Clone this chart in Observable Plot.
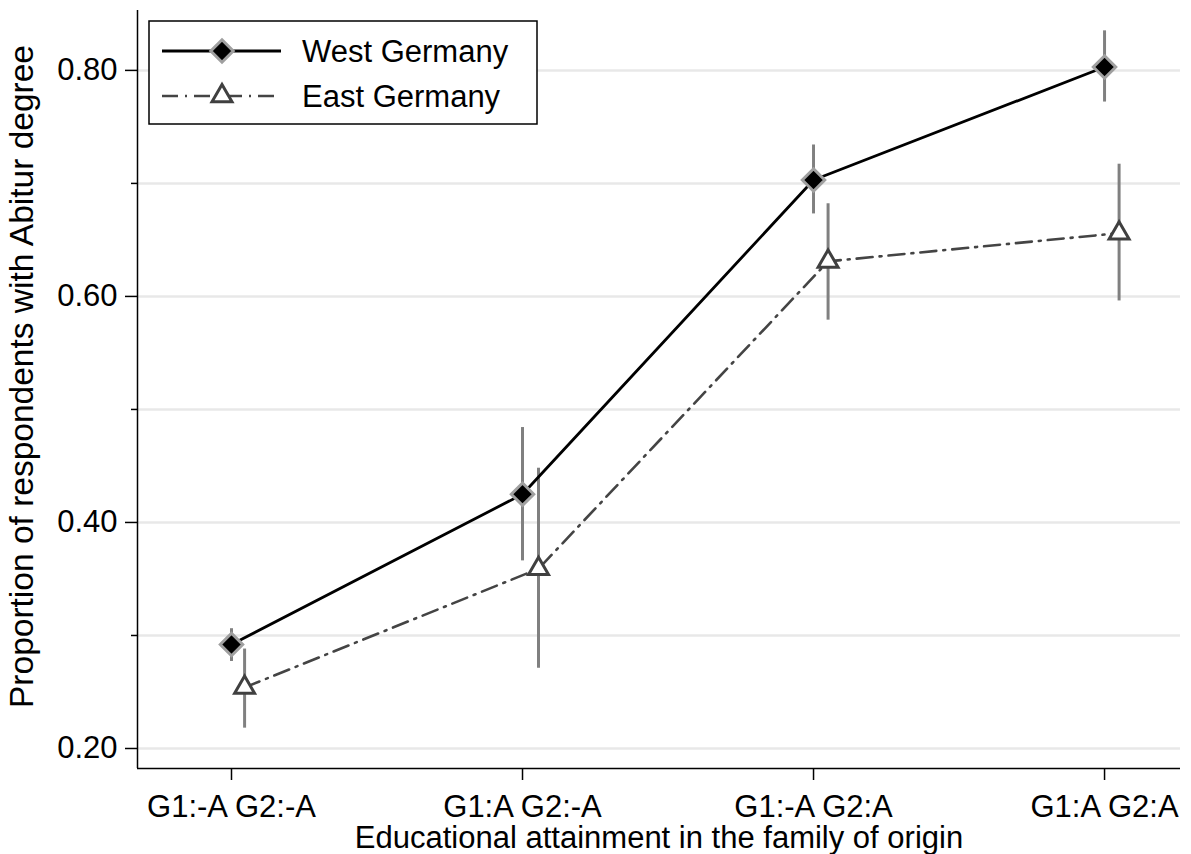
<!DOCTYPE html>
<html>
<head>
<meta charset="utf-8">
<script src="https://cdn.jsdelivr.net/npm/d3@7"></script>
<script src="https://cdn.jsdelivr.net/npm/@observablehq/plot@0.6"></script>
<style>
  html, body { margin: 0; padding: 0; background: white; }
</style>
</head>
<body>
<div id="chart"></div>
<script>
// ---- data ----
const categories = ["G1:-A G2:-A", "G1:A G2:-A", "G1:-A G2:A", "G1:A G2:A"];
const categoryPos = [1, 2, 3, 4];

const westX    = [1, 2, 3, 4];
const westMean = [0.292, 0.425, 0.703, 0.803];
const westLo   = [0.277, 0.366, 0.673, 0.772];
const westHi   = [0.306, 0.484, 0.734, 0.835];

const eastX    = [1.045, 2.055, 3.05, 4.05];
const eastMean = [0.254, 0.359, 0.631, 0.656];
const eastLo   = [0.218, 0.271, 0.579, 0.596];
const eastHi   = [0.288, 0.448, 0.682, 0.717];

const yMajorTicks = [0.2, 0.4, 0.6, 0.8];
const yMinorTicks = [0.3, 0.5, 0.7];
const yGrid = [0.2, 0.3, 0.4, 0.5, 0.6, 0.7, 0.8];

const seriesNames = ["West Germany", "East Germany"];
const xTitle = "Educational attainment in the family of origin";
const yTitle = "Proportion of respondents with Abitur degree";

const xDomain = [0.677, 4.261];
const yDomain = [0.1823, 0.853];

// ---- tables ----
const west = westX.map((x, i) => ({x, y: westMean[i], lo: westLo[i], hi: westHi[i]}));
const east = eastX.map((x, i) => ({x, y: eastMean[i], lo: eastLo[i], hi: eastHi[i]}));

const font = "'Liberation Sans', Arial, Helvetica, sans-serif";
const dashEast = "16,7,2,7";

const chart = Plot.plot({
  width: 1191,
  height: 854,
  marginLeft: 137,
  marginRight: 11,
  marginTop: 10,
  marginBottom: 86,
  style: {fontFamily: font, fontSize: "31px", background: "white", color: "black"},
  x: {type: "linear", domain: xDomain},
  y: {type: "linear", domain: yDomain},
  marks: [
    Plot.gridY(yGrid, {stroke: "#e8e8e8", strokeOpacity: 1, strokeWidth: 2.5}),
    Plot.ruleX([xDomain[0]], {stroke: "black", strokeWidth: 1.5}),
    Plot.ruleY([yDomain[0]], {stroke: "black", strokeWidth: 1.5}),
    Plot.axisY({ticks: yMajorTicks, tickFormat: ".2f", tickSize: 12, tickPadding: 8, fontSize: 31, label: null, stroke: "black", strokeWidth: 1.5}),
    Plot.axisY({ticks: yMinorTicks, tickFormat: () => "", tickSize: 6, tickPadding: 0, label: null, stroke: "black", strokeWidth: 1.5}),
    Plot.axisX({ticks: categoryPos, tickFormat: d => categories[d - 1], tickSize: 12, tickPadding: 14, fontSize: 31, label: null, stroke: "black", strokeWidth: 1.5}),
    Plot.text([xTitle], {frameAnchor: "bottom", textAnchor: "middle", dy: 79, fontSize: 31, fill: "black"}),
    Plot.text([yTitle], {frameAnchor: "left", textAnchor: "middle", rotate: -90, dx: -115, dy: -13, fontSize: 33.5, fill: "black"}),
    // confidence intervals
    Plot.ruleX(west, {x: "x", y1: "lo", y2: "hi", stroke: "#808080", strokeWidth: 3}),
    Plot.ruleX(east, {x: "x", y1: "lo", y2: "hi", stroke: "#808080", strokeWidth: 3}),
    // lines
    Plot.line(west, {x: "x", y: "y", stroke: "black", strokeWidth: 2.8}),
    Plot.line(east, {x: "x", y: "y", stroke: "#444444", strokeWidth: 2.6, strokeDasharray: dashEast}),
    // markers
    Plot.dot(west, {x: "x", y: "y", symbol: "diamond2", r: 10.1, fill: "black", stroke: "#a0a0a0", strokeWidth: 3}),
    Plot.dot(east, {x: "x", y: "y", symbol: "triangle", r: 7.4, fill: "white", stroke: "#404040", strokeWidth: 3})
  ]
});

document.getElementById("chart").appendChild(chart);

// ---- legend (inside plot, top-left) ----
const svg = d3.select(chart);
const lg = svg.append("g").attr("font-family", font).attr("font-size", 31).attr("text-anchor", "start");
lg.append("rect").attr("x", 149).attr("y", 21).attr("width", 388).attr("height", 103)
  .attr("fill", "white").attr("stroke", "black").attr("stroke-width", 1.5);
const rows = [
  {name: seriesNames[0], y: 51, stroke: "black", dash: null, sw: 2.8},
  {name: seriesNames[1], y: 96, stroke: "#444444", dash: dashEast, sw: 2.6}
];
rows.forEach((r, i) => {
  lg.append("line").attr("x1", 162).attr("x2", 281).attr("y1", r.y).attr("y2", r.y)
    .attr("stroke", r.stroke).attr("stroke-width", r.sw).attr("stroke-dasharray", r.dash);
  const sym = i === 0
    ? d3.symbol(d3.symbolDiamond2 || d3.symbolSquare, 320)
    : d3.symbol(d3.symbolTriangle, 173);
  lg.append("path").attr("d", sym()).attr("transform", `translate(222,${r.y})`)
    .attr("fill", i === 0 ? "black" : "white")
    .attr("stroke", i === 0 ? "#a0a0a0" : "#404040").attr("stroke-width", 3);
  lg.append("text").attr("x", 302).attr("y", r.y).attr("dy", "0.36em")
    .attr("text-anchor", "start").attr("fill", "black").text(r.name);
});
</script>
</body>
</html>
